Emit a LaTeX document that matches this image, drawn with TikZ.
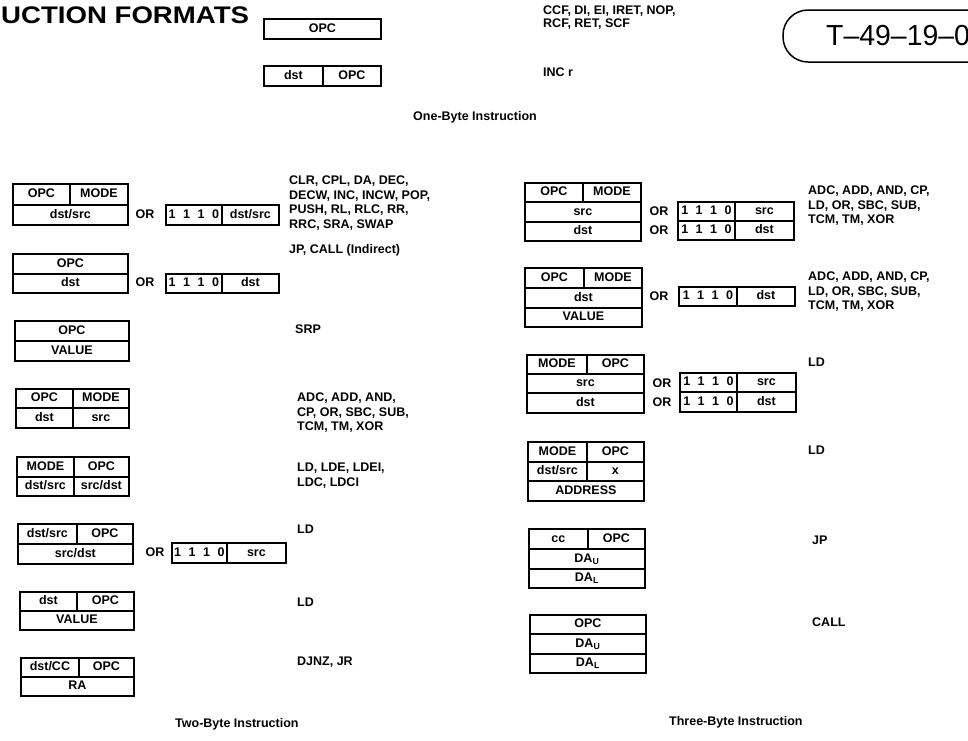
\documentclass[tikz,border=0pt]{standalone}
\usepackage{fontspec}
\setmainfont{Liberation Sans}
\usepackage{graphicx}
\begin{document}
\begin{tikzpicture}[x=1pt,y=-1pt,
  cell/.style={draw,line width=1.8pt,anchor=north west,inner sep=0pt,text height=8.8pt,text depth=2.4pt,font=\fontsize{12.5}{13}\selectfont\bfseries},
  lbl/.style={anchor=west,inner sep=0pt,font=\fontsize{12.5}{14.5}\selectfont\bfseries,align=left},
  blk/.style={lbl,anchor=north west},
  orword/.style={inner sep=0pt,font=\fontsize{12.5}{13}\selectfont\bfseries}]
\useasboundingbox (0,0) rectangle (968,740);
\clip (0,0) rectangle (968,740);

\node[anchor=west,inner sep=0pt,font=\fontsize{24}{24}\selectfont\bfseries] (title) at (1,15) {\scalebox{1.15}[1]{UCTION FORMATS}};
\draw[line width=1.5pt,rounded corners=25pt] (1000,10) -- (783,10) -- (783,62) -- (1000,62);
\node[anchor=west,inner sep=0pt,font=\fontsize{29}{29}\selectfont] (stamp) at (826,36) {\scalebox{0.98}[1]{T–49–19–0}};

\node[cell,minimum width=117,minimum height=20] (o1) at (263,18) {OPC};
\node[cell,minimum width=59,minimum height=20] (o2a) at (263,65) {dst};
\node[cell,minimum width=58,minimum height=20] (o2b) at (322,65) {OPC};
\node[blk,font=\fontsize{12.5}{12.5}\selectfont\bfseries] (t1) at (543,6) {CCF, DI, EI, IRET, NOP,\\RCF, RET, SCF};
\node[lbl] (t2) at (543,72) {INC r};
\node[lbl] (t3) at (413,117) {One-Byte Instruction};

\node[cell,minimum width=57,minimum height=21] (l1a) at (12,183) {OPC};
\node[cell,minimum width=58,minimum height=21] (l1b) at (69,183) {MODE};
\node[cell,minimum width=115,minimum height=20] (l1c) at (12,204) {dst/src};
\node[orword] (or1) at (145,214) {OR};
\node[cell,minimum width=56,minimum height=20] (l1d) at (165,204) {1\hskip7.5pt 1\hskip7.5pt 1\hskip7.5pt 0};
\node[cell,minimum width=57,minimum height=20] (l1e) at (221,204) {dst/src};
\node[blk] (t4) at (289,176) {CLR, CPL, DA, DEC,\\DECW, INC, INCW, POP,\\PUSH, RL, RLC, RR,\\RRC, SRA, SWAP};

\node[cell,minimum width=115,minimum height=20] (l2a) at (12,253) {OPC};
\node[cell,minimum width=115,minimum height=19] (l2b) at (12,273) {dst};
\node[orword] (or2) at (145,282) {OR};
\node[cell,minimum width=56,minimum height=19] (l2c) at (165,273) {1\hskip7.5pt 1\hskip7.5pt 1\hskip7.5pt 0};
\node[cell,minimum width=57,minimum height=19] (l2d) at (221,273) {dst};
\node[lbl] (t5) at (289,250) {JP, CALL (Indirect)};

\node[cell,minimum width=114,minimum height=20] (l3a) at (14,320) {OPC};
\node[cell,minimum width=114,minimum height=20] (l3b) at (14,340) {VALUE};
\node[lbl] (t6) at (295,329) {SRP};

\node[cell,minimum width=57,minimum height=19] (l4a) at (15,388) {OPC};
\node[cell,minimum width=56,minimum height=19] (l4b) at (72,388) {MODE};
\node[cell,minimum width=57,minimum height=20] (l4c) at (15,407) {dst};
\node[cell,minimum width=56,minimum height=20] (l4d) at (72,407) {src};
\node[blk] (t7) at (297,393) {ADC, ADD, AND,\\CP, OR, SBC, SUB,\\TCM, TM, XOR};

\node[cell,minimum width=57,minimum height=20] (l5a) at (16,456) {MODE};
\node[cell,minimum width=55,minimum height=20] (l5b) at (73,456) {OPC};
\node[cell,minimum width=57,minimum height=19] (l5c) at (16,476) {dst/src};
\node[cell,minimum width=55,minimum height=19] (l5d) at (73,476) {src/dst};
\node[blk] (t8) at (297,463) {LD, LDE, LDEI,\\LDC, LDCI};

\node[cell,minimum width=59,minimum height=20] (l6a) at (17,523) {dst/src};
\node[cell,minimum width=56,minimum height=20] (l6b) at (76,523) {OPC};
\node[cell,minimum width=115,minimum height=20] (l6c) at (17,543) {src/dst};
\node[orword] (or3) at (155,552) {OR};
\node[cell,minimum width=55,minimum height=20] (l6d) at (171,542) {1\hskip7.5pt 1\hskip7.5pt 1\hskip7.5pt 0};
\node[cell,minimum width=59,minimum height=20] (l6e) at (226,542) {src};
\node[lbl] (t9) at (297,529) {LD};

\node[cell,minimum width=57,minimum height=19] (l7a) at (19,591) {dst};
\node[cell,minimum width=57,minimum height=19] (l7b) at (76,591) {OPC};
\node[cell,minimum width=114,minimum height=19] (l7c) at (19,610) {VALUE};
\node[lbl] (t10) at (297,602) {LD};

\node[cell,minimum width=58,minimum height=19] (l8a) at (20,657) {dst/CC};
\node[cell,minimum width=55,minimum height=19] (l8b) at (78,657) {OPC};
\node[cell,minimum width=113,minimum height=19] (l8c) at (20,676) {RA};
\node[lbl] (t11) at (297,662) {DJNZ, JR};
\node[lbl] (t12) at (175,724) {Two-Byte Instruction};

\node[cell,minimum width=58,minimum height=19] (r1a) at (524,182) {OPC};
\node[cell,minimum width=58,minimum height=19] (r1b) at (582,182) {MODE};
\node[cell,minimum width=116,minimum height=20] (r1c) at (524,201) {src};
\node[cell,minimum width=116,minimum height=19] (r1d) at (524,221) {dst};
\node[orword] (or4) at (659,211) {OR};
\node[orword] (or5) at (659,230) {OR};
\node[cell,minimum width=57,minimum height=19] (r1e) at (677,201) {1\hskip7.5pt 1\hskip7.5pt 1\hskip7.5pt 0};
\node[cell,minimum width=59,minimum height=19] (r1f) at (734,201) {src};
\node[cell,minimum width=57,minimum height=19] (r1g) at (677,220) {1\hskip7.5pt 1\hskip7.5pt 1\hskip7.5pt 0};
\node[cell,minimum width=59,minimum height=19] (r1h) at (734,220) {dst};
\node[blk] (t13) at (808,186) {ADC, ADD, AND, CP,\\LD, OR, SBC, SUB,\\TCM, TM, XOR};

\node[cell,minimum width=59,minimum height=20] (r2a) at (524,267) {OPC};
\node[cell,minimum width=58,minimum height=20] (r2b) at (583,267) {MODE};
\node[cell,minimum width=117,minimum height=20] (r2c) at (524,287) {dst};
\node[cell,minimum width=117,minimum height=19] (r2d) at (524,307) {VALUE};
\node[orword] (or6) at (659,296) {OR};
\node[cell,minimum width=58,minimum height=19] (r2e) at (678,286) {1\hskip7.5pt 1\hskip7.5pt 1\hskip7.5pt 0};
\node[cell,minimum width=58,minimum height=19] (r2f) at (736,286) {dst};
\node[blk] (t14) at (808,272) {ADC, ADD, AND, CP,\\LD, OR, SBC, SUB,\\TCM, TM, XOR};

\node[cell,minimum width=60,minimum height=19] (r3a) at (526,354) {MODE};
\node[cell,minimum width=57,minimum height=19] (r3b) at (586,354) {OPC};
\node[cell,minimum width=117,minimum height=19] (r3c) at (526,373) {src};
\node[cell,minimum width=117,minimum height=20] (r3d) at (526,392) {dst};
\node[orword] (or7) at (662,383) {OR};
\node[orword] (or8) at (662,402) {OR};
\node[cell,minimum width=57,minimum height=19] (r3e) at (679,372) {1\hskip7.5pt 1\hskip7.5pt 1\hskip7.5pt 0};
\node[cell,minimum width=59,minimum height=19] (r3f) at (736,372) {src};
\node[cell,minimum width=57,minimum height=20] (r3g) at (679,391) {1\hskip7.5pt 1\hskip7.5pt 1\hskip7.5pt 0};
\node[cell,minimum width=59,minimum height=20] (r3h) at (736,391) {dst};
\node[lbl] (t15) at (808,362) {LD};

\node[cell,minimum width=59,minimum height=20] (r4a) at (527,441) {MODE};
\node[cell,minimum width=57,minimum height=20] (r4b) at (586,441) {OPC};
\node[cell,minimum width=59,minimum height=19] (r4c) at (527,461) {dst/src};
\node[cell,minimum width=57,minimum height=19] (r4d) at (586,461) {x};
\node[cell,minimum width=116,minimum height=20] (r4e) at (527,480) {ADDRESS};
\node[lbl] (t16) at (808,450) {LD};

\node[cell,minimum width=59,minimum height=20] (r5a) at (528,528) {cc};
\node[cell,minimum width=57,minimum height=20] (r5b) at (587,528) {OPC};
\node[cell,minimum width=116,minimum height=20] (r5c) at (528,548) {DA\textsubscript{U}};
\node[cell,minimum width=116,minimum height=19] (r5d) at (528,568) {DA\textsubscript{L}};
\node[lbl] (t17) at (812,540) {JP};

\node[cell,minimum width=116,minimum height=19] (r6a) at (529,614) {OPC};
\node[cell,minimum width=116,minimum height=20] (r6b) at (529,633) {DA\textsubscript{U}};
\node[cell,minimum width=116,minimum height=19] (r6c) at (529,653) {DA\textsubscript{L}};
\node[lbl] (t18) at (812,622) {CALL};
\node[lbl] (t19) at (669,722) {Three-Byte Instruction};
\end{tikzpicture}
\end{document}
